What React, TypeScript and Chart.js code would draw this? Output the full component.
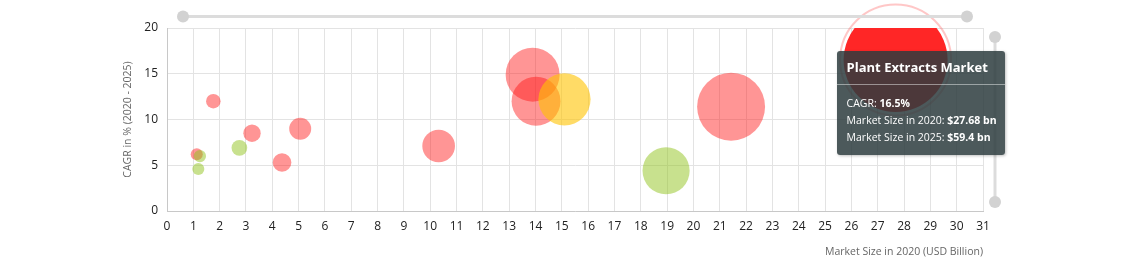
import React, { useEffect, useRef } from "react";
import { Chart, registerables } from "chart.js";

Chart.register(...registerables);

// ---- data ----
const markets = [
  "Market A", "Market B", "Market C", "Market D", "Market E",
  "Market F", "Market G", "Market H", "Market I", "Market J",
  "Market K", "Market L", "Market M", "Market N", "Plant Extracts Market",
];
const marketSize2020 = [1.76, 1.13, 1.25, 1.19, 2.75, 3.23, 4.37, 5.06, 10.32, 13.89, 14.02, 15.1, 18.96, 21.43, 27.68];
const cagr = [12.0, 6.2, 6.0, 4.6, 6.9, 8.5, 5.3, 9.0, 7.1, 14.9, 12.0, 12.2, 4.4, 11.4, 16.5];
const marketSize2025 = [3.1, 1.52, 1.67, 1.49, 3.84, 4.86, 5.66, 7.77, 14.5, 27.9, 24.7, 26.8, 23.6, 36.7, 59.4];
const group = ["a", "a", "c", "c", "c", "a", "a", "a", "a", "a", "a", "b", "c", "a", "a"];
const highlighted = "Plant Extracts Market";

const xTitle = "Market Size in 2020 (USD Billion)";
const yTitle = "CAGR in % (2020 - 2025)";

// ---- styles ----
const groupColors: Record<string, string> = {
  a: "rgba(255, 20, 20, 0.45)",
  b: "rgba(255, 195, 0, 0.6)",
  c: "rgba(145, 195, 30, 0.5)",
};
const hoverColor = "rgb(255, 38, 38)";
const FONT = "'Open Sans', 'Noto Sans', sans-serif";
const R_MIN = 6;
const R_MAX = 52;

const zMin = Math.min(...marketSize2025);
const zMax = Math.max(...marketSize2025);

const haloPlugin = {
  id: "halo",
  afterDatasetsDraw(chart: any) {
    const ctx = chart.ctx;
    chart.getActiveElements().forEach((a: any) => {
      const el = a.element;
      const r = el.options.radius;
      ctx.save();
      ctx.beginPath();
      ctx.arc(el.x, el.y, r + 3.5, 0, Math.PI * 2);
      ctx.strokeStyle = "rgba(255, 70, 70, 0.3)";
      ctx.lineWidth = 2;
      ctx.stroke();
      ctx.restore();
    });
  },
};

const sliderPlugin = {
  id: "sliders",
  afterDraw(chart: any) {
    const { ctx, chartArea } = chart;
    const { left, right, top, bottom } = chartArea;
    ctx.save();
    ctx.strokeStyle = "#dcdcdc";
    ctx.lineWidth = 3;
    ctx.lineCap = "butt";
    // top slider
    const ty = top - 11.5;
    ctx.beginPath();
    ctx.moveTo(left + 16, ty);
    ctx.lineTo(right - 16, ty);
    ctx.stroke();
    // right slider
    const rx = right + 12;
    ctx.beginPath();
    ctx.moveTo(rx, top + 9);
    ctx.lineTo(rx, bottom - 9);
    ctx.stroke();
    ctx.fillStyle = "#d2d2d2";
    const knobs = [
      [left + 16, ty],
      [right - 16, ty],
      [rx, top + 9],
      [rx, bottom - 9],
    ];
    knobs.forEach(([x, y]) => {
      ctx.beginPath();
      ctx.arc(x, y, 6, 0, Math.PI * 2);
      ctx.fill();
    });
    ctx.restore();
  },
};

export default function App() {
  const canvasRef = useRef<HTMLCanvasElement | null>(null);
  const tipRef = useRef<HTMLDivElement | null>(null);

  useEffect(() => {
    if (!canvasRef.current) return;
    Chart.defaults.font.family = FONT;

    const data = marketSize2020.map((x, i) => ({ x, y: cagr[i], z: marketSize2025[i] }));

    const chart = new Chart(canvasRef.current, {
      type: "bubble",
      data: {
        datasets: [
          {
            label: "Markets",
            data: data as any,
            backgroundColor: group.map((g) => groupColors[g]),
            hoverBackgroundColor: group.map(() => hoverColor),
            borderWidth: 0,
            hoverBorderWidth: 0,
            hoverRadius: 0,
            clip: 0,
            radius: (c: any) => {
              const z = marketSize2025[c.dataIndex];
              return R_MIN + ((R_MAX - R_MIN) * (z - zMin)) / (zMax - zMin);
            },
          } as any,
        ],
      },
      options: {
        animation: false,
        responsive: false,
        events: [],
        layout: { autoPadding: false, padding: { left: 122, right: 141, top: 28, bottom: 10 } },
        plugins: {
          legend: { display: false },
          tooltip: {
            enabled: false,
            external: (ctx: any) => {
              const { tooltip } = ctx;
              const el = tipRef.current;
              if (!el) return;
              if (!tooltip || tooltip.opacity === 0 || !tooltip.dataPoints?.length) {
                el.style.display = "none";
                return;
              }
              const i = tooltip.dataPoints[0].dataIndex;
              el.innerHTML =
                `<div style="padding:7px 10px 8px 10px;font-weight:700;font-size:13px;">${markets[i]}</div>` +
                `<div style="height:1px;background:rgba(255,255,255,0.45);"></div>` +
                `<div style="padding:10px 10px 9px 10px;font-size:10.5px;line-height:17px;">` +
                `<div>CAGR: <b>${cagr[i]}%</b></div>` +
                `<div>Market Size in 2020: <b>$${marketSize2020[i]} bn</b></div>` +
                `<div>Market Size in 2025: <b>$${marketSize2025[i]} bn</b></div>` +
                `</div>`;
              el.style.display = "block";
              el.style.left = tooltip.caretX - 59 + "px";
              el.style.top = tooltip.caretY - 9 + "px";
            },
          },
        },
        scales: {
          x: {
            type: "linear",
            min: 0,
            max: 31,
            ticks: { stepSize: 1, color: "#222", font: { size: 12 }, padding: 8, maxRotation: 0, autoSkip: false },
            grid: { color: "#e3e3e3", drawTicks: false },
            border: { color: "#c8c8c8" },
            title: {
              display: true,
              text: xTitle,
              align: "end",
              color: "#666",
              font: { size: 10.5 },
              padding: { top: 0, bottom: 0 },
            },
            afterFit: (s: any) => {
              s.height = 47;
            },
          },
          y: {
            type: "linear",
            min: 0,
            max: 20,
            ticks: { stepSize: 5, color: "#222", font: { size: 12 }, padding: 9 },
            grid: { color: "#e3e3e3", drawTicks: false },
            border: { color: "#c8c8c8" },
            title: {
              display: true,
              text: yTitle,
              color: "#666",
              font: { size: 10.5 },
              padding: { top: 0, bottom: 0 },
            },
            afterFit: (s: any) => {
              s.width = 45;
            },
          },
        },
      },
      plugins: [haloPlugin, sliderPlugin],
    });

    const idx = markets.indexOf(highlighted);
    const active = [{ datasetIndex: 0, index: idx }];
    chart.setActiveElements(active);
    chart.tooltip?.setActiveElements(active, { x: 0, y: 0 });
    chart.draw();

    return () => chart.destroy();
  }, []);

  return (
    <div style={{ position: "absolute", left: 0, top: 0, width: 1124, height: 268, background: "#fff" }}>
      <canvas ref={canvasRef} width={1124} height={268} style={{ display: "block" }} />
      <div
        ref={tipRef}
        style={{
          position: "absolute",
          display: "none",
          width: 168,
          boxSizing: "border-box",
          background: "rgba(45, 60, 62, 0.85)",
          color: "#fff",
          borderRadius: 3,
          fontFamily: FONT,
          boxShadow: "1px 1px 3px rgba(0,0,0,0.25)",
          pointerEvents: "none",
          whiteSpace: "nowrap",
        }}
      />
    </div>
  );
}
